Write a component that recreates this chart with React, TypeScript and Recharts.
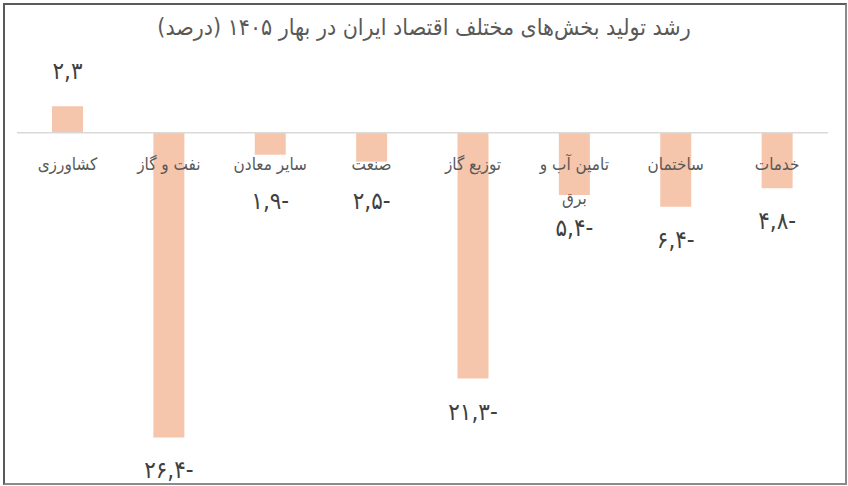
import React from 'react';
import { BarChart, Bar, XAxis, YAxis, ReferenceLine, LabelList } from 'recharts';

// ---- data (left to right as in the picture) ----
const categories = [
    'کشاورزی',
    'نفت و گاز',
    'سایر معادن',
    'صنعت',
    'توزیع گاز',
    'تامین آب و برق',
    'ساختمان',
    'خدمات',
];
const growth = [2.3, -26.4, -1.9, -2.5, -21.3, -5.4, -6.4, -4.8];
const title = 'رشد تولید بخش‌های مختلف اقتصاد ایران در بهار ۱۴۰۵ (درصد)';

const data = categories.map((name, i) => ({ name, value: growth[i] }));

const FONT = '"DejaVu Sans Condensed", "DejaVu Sans", sans-serif';
const PERSIAN = '۰۱۲۳۴۵۶۷۸۹';

function toPersian(v: number) {
    const s = Math.abs(v)
        .toFixed(1)
        .replace(/\d/g, (d) => PERSIAN[Number(d)])
        .replace('.', ',');
    return v < 0 ? s + '-' : s;
}

// long names go onto two lines (last word moves down)
function splitName(name: string) {
    if (name.length <= 12) return [name];
    const words = name.split(' ');
    return [words.slice(0, -1).join(' '), words[words.length - 1]];
}

function barBox(props: any) {
    const vb = props.viewBox || {};
    const x = Number(props.x ?? vb.x);
    const y = Number(props.y ?? vb.y);
    const w = Number(props.width ?? vb.width);
    const h = Number(props.height ?? vb.height);
    return { cx: x + w / 2, top: Math.min(y, y + h), bottom: Math.max(y, y + h) };
}

function CategoryLabel(props: any) {
    const { cx, top, bottom } = barBox(props);
    const v = growth[props.index];
    const zero = v >= 0 ? bottom : top;
    const lines = splitName(categories[props.index]);
    return (
        <g>
            {lines.map((line, i) => (
                <text
                    key={i}
                    x={cx}
                    y={zero + 37 + i * 34}
                    textAnchor="middle"
                    direction="rtl"
                    fontFamily={FONT}
                    fontSize={17}
                    fill="#595959"
                >
                    {line}
                </text>
            ))}
        </g>
    );
}

function ValueLabel(props: any) {
    const { cx, top, bottom } = barBox(props);
    const v = growth[props.index];
    const y = v >= 0 ? top - 27 : Math.max(bottom + 41, top + 76);
    return (
        <text
            x={cx}
            y={y}
            textAnchor="middle"
            fontFamily={FONT}
            fontSize={24}
            letterSpacing={2}
            fill="#404040"
        >
            {toPersian(v)}
        </text>
    );
}

export default function App() {
    return (
        <div
            style={{
                position: 'absolute',
                left: 0,
                top: 0,
                width: 848,
                height: 486,
                background: '#fff',
                overflow: 'hidden',
            }}
        >
            <div
                style={{
                    position: 'absolute',
                    left: 3,
                    top: 3,
                    width: 840,
                    height: 478,
                    border: '2px solid #5a5a5a',
                    borderRightColor: '#8a8a8a',
                    borderBottomColor: '#8a8a8a',
                }}
            />
            <div
                dir="rtl"
                style={{
                    position: 'absolute',
                    left: 0,
                    top: 14,
                    width: 848,
                    textAlign: 'center',
                    fontFamily: FONT,
                    fontSize: 23,
                    color: '#595959',
                }}
            >
                {title}
            </div>
            <div style={{ position: 'absolute', left: 0, top: 0 }}>
                <BarChart
                    width={848}
                    height={486}
                    data={data}
                    margin={{ top: 52, right: 20, bottom: 7, left: 17 }}
                >
                    <XAxis dataKey="name" hide />
                    <YAxis hide domain={[-30, 7]} />
                    <ReferenceLine y={0} stroke="#d9d9d9" strokeWidth={1.5} />
                    <Bar dataKey="value" fill="#F5C6AC" barSize={31} isAnimationActive={false}>
                        <LabelList dataKey="value" content={CategoryLabel} />
                        <LabelList dataKey="value" content={ValueLabel} />
                    </Bar>
                </BarChart>
            </div>
        </div>
    );
}
